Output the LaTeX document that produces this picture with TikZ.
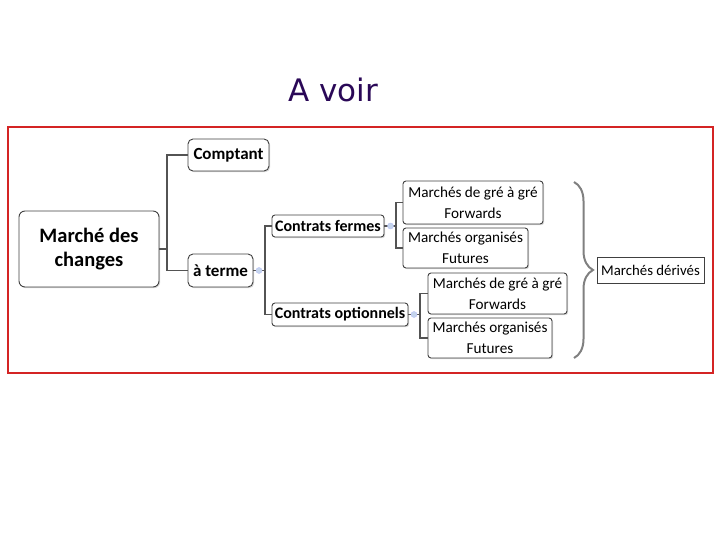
\documentclass[tikz,border=0pt]{standalone}
\usepackage{fontspec}
\setmainfont{Carlito}
\newfontfamily\titlefont{DejaVu Sans}
\usetikzlibrary{decorations.pathreplacing,shadows}
\definecolor{titlec}{HTML}{2A0857}
\definecolor{framered}{HTML}{D42424}
\definecolor{edge}{HTML}{404040}
\definecolor{knob}{HTML}{C4D4EC}
\tikzset{
  box/.style={draw=edge, line width=0.9pt, rounded corners=3pt, fill=white, inner sep=0pt, align=center,
    drop shadow={shadow xshift=1.2pt, shadow yshift=-1.2pt, fill=black!25, opacity=0.6}},
  boldbox/.style={box, font=\bfseries\fontsize{16}{18}\selectfont},
  plainbox/.style={box, font=\fontsize{15.2}{21}\selectfont},
  conn/.style={draw=edge!90, line width=1.1pt},
  knobdot/.style={circle, fill=knob, draw=knob!70!blue!60, line width=0.4pt, inner sep=0pt, minimum size=6pt},
}
\begin{document}
\begin{tikzpicture}[x=1pt,y=-1pt]
\useasboundingbox (0,0) rectangle (720,540);
\node[font=\titlefont\fontsize{31}{34}\selectfont, text=titlec] (title) at (333,90) {A voir};
\draw[framered, line width=2.5pt] (8,127) rectangle (713,373);

\node[boldbox, font=\bfseries\fontsize{20.5}{24}\selectfont, minimum width=140pt, minimum height=76pt, rounded corners=6pt] (M) at (89,249) {Marché des\\changes};
\node[boldbox, font=\bfseries\fontsize{17}{20}\selectfont, minimum width=81pt, minimum height=32pt, rounded corners=5pt] (C) at (228.5,155) {Comptant};
\node[boldbox, font=\bfseries\fontsize{17}{20}\selectfont, minimum width=65pt, minimum height=33pt, rounded corners=5pt] (T) at (220.5,270.5) {à terme};
\node[boldbox, minimum width=112pt, minimum height=22pt] (CF) at (328,226) {Contrats fermes};
\node[boldbox, minimum width=136pt, minimum height=23pt] (CO) at (340,314.5) {Contrats optionnels};
\node[plainbox, minimum width=140pt, minimum height=43pt] (F1) at (473,202.5) {Marchés de gré à gré\\Forwards};
\node[plainbox, minimum width=125pt, minimum height=40pt] (U1) at (465.5,248) {Marchés organisés\\Futures};
\node[plainbox, minimum width=139pt, minimum height=41pt] (F2) at (497.5,293.5) {Marchés de gré à gré\\Forwards};
\node[plainbox, minimum width=124pt, minimum height=40pt] (U2) at (490,338) {Marchés organisés\\Futures};
\node[plainbox, font=\fontsize{14.8}{18}\selectfont, rounded corners=0pt, minimum width=107pt, minimum height=26pt] (D) at (650.5,270) {Marchés dérivés};

\coordinate (j1) at (167,249);
\coordinate (j2) at (265,270.5);
\coordinate (j3) at (396,226);
\coordinate (j4) at (420,314.5);
\draw[conn] (M.east) -- (j1) |- (C.west);
\draw[conn] (j1) |- (T.west);
\draw[conn] (T.east) -- (j2) |- (CF.west);
\draw[conn] (j2) |- (CO.west);
\draw[conn] (CF.east) -- (j3) |- (F1.west);
\draw[conn] (j3) |- (U1.west);
\draw[conn] (CO.east) -- (j4) |- (F2.west);
\draw[conn] (j4) |- (U2.west);
\node[knobdot] (k1) at (259,270.5) {};
\node[knobdot] (k2) at (390.5,226) {};
\node[knobdot] (k3) at (414,314.5) {};

\coordinate (bt) at (574,182);
\coordinate (bb) at (574,358);
\draw[gray, line width=2pt, decorate, decoration={brace, amplitude=19pt}] (bt) -- (bb);
\end{tikzpicture}
\end{document}
